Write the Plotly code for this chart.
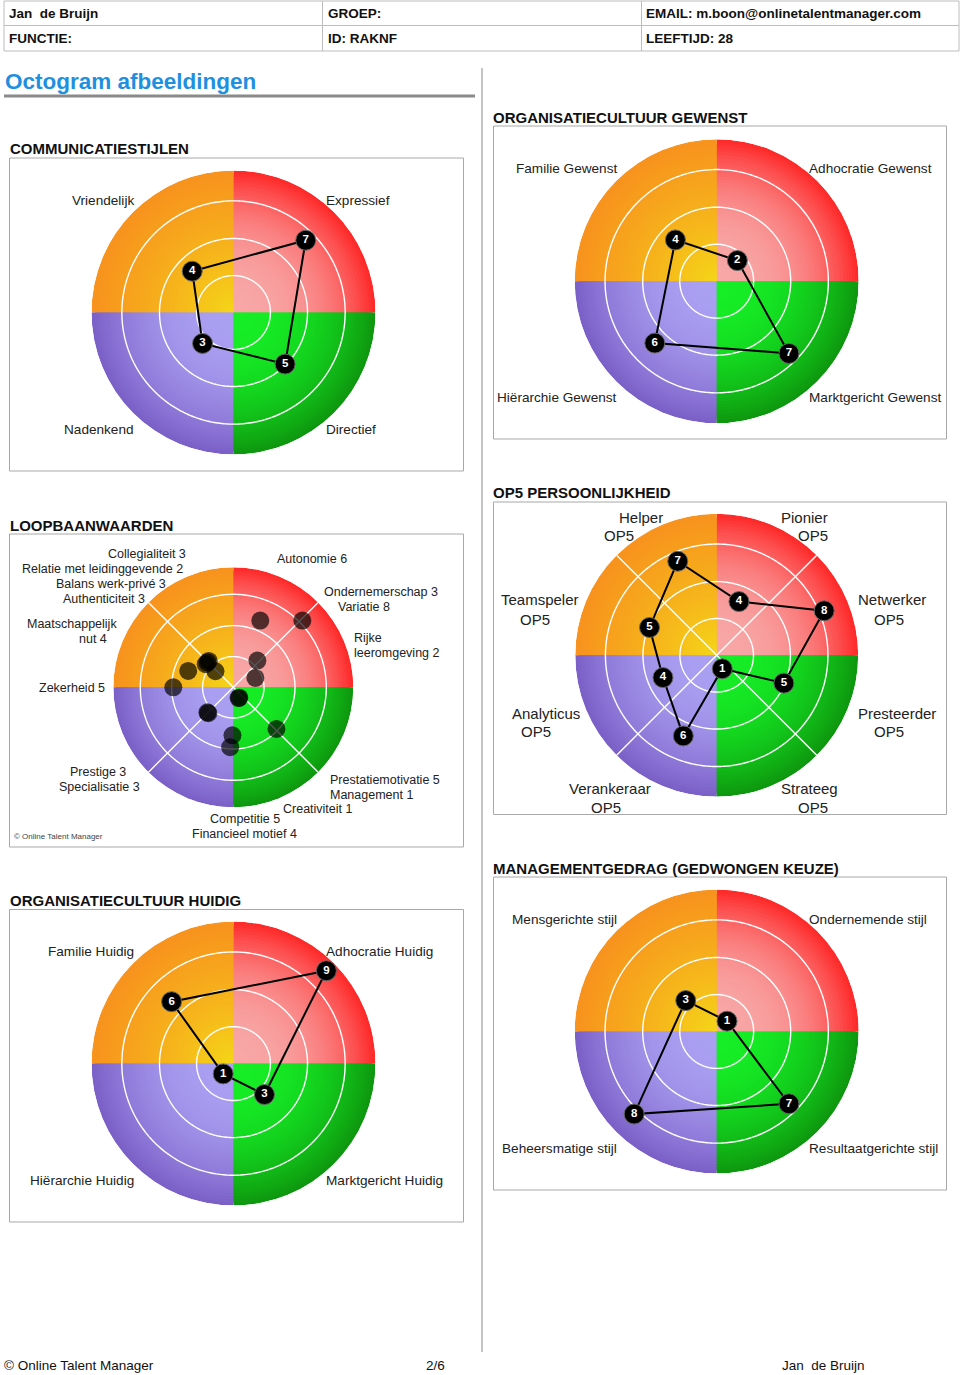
import numpy as np
import plotly.graph_objects as go

W, H = 960, 1375
FONT = "Liberation Sans, Arial, sans-serif"

# ------------------------------------------------------------------ data
header_row1 = ["Jan\u00a0 de Bruijn", "GROEP:", "EMAIL: m.boon@onlinetalentmanager.com"]
header_row2 = ["FUNCTIE:", "ID: RAKNF", "LEEFTIJD: 28"]
page_title = "Octogram afbeeldingen"
footer_texts = ["© Online Talent Manager", "2/6", "Jan\u00a0 de Bruijn"]

quad_theta = [45, 135, 225, 315]          # NE, NW, SW, SE

comm_title = "COMMUNICATIESTIJLEN"
comm_labels = ["Expressief", "Vriendelijk", "Nadenkend", "Directief"]
comm_values = [7, 4, 3, 5]

gew_title = "ORGANISATIECULTUUR GEWENST"
gew_labels = ["Adhocratie Gewenst", "Familie Gewenst", "Hiërarchie Gewenst", "Marktgericht Gewenst"]
gew_values = [2, 4, 6, 7]

hui_title = "ORGANISATIECULTUUR HUIDIG"
hui_labels = ["Adhocratie Huidig", "Familie Huidig", "Hiërarchie Huidig", "Marktgericht Huidig"]
hui_values = [9, 6, 1, 3]

man_title = "MANAGEMENTGEDRAG (GEDWONGEN KEUZE)"
man_labels = ["Ondernemende stijl", "Mensgerichte stijl", "Beheersmatige stijl", "Resultaatgerichte stijl"]
man_values = [1, 3, 8, 7]

op5_title = "OP5 PERSOONLIJKHEID"
op5_labels = ["Netwerker", "Pionier", "Helper", "Teamspeler", "Analyticus", "Verankeraar", "Strateeg", "Presteerder"]
op5_theta = [22.5, 67.5, 112.5, 157.5, 202.5, 247.5, 292.5, 337.5]
op5_values = [8, 4, 7, 5, 4, 6, 1, 5]
op5_level = ["OP5"] * 8

loop_title = "LOOPBAANWAARDEN"
loop_labels = ["Collegialiteit", "Relatie met leidinggevende", "Balans werk-privé", "Authenticiteit",
               "Maatschappelijk\nnut", "Zekerheid", "Autonomie", "Ondernemerschap", "Variatie",
               "Rijke\nleeromgeving", "Prestatiemotivatie", "Management", "Creativiteit",
               "Competitie", "Financieel motief", "Prestige", "Specialisatie"]
loop_values = [3, 2, 3, 3, 4, 5, 6, 3, 8, 2, 5, 1, 1, 5, 4, 3, 3]
loop_theta = [133, 138, 136, 140, 160, 180, 68, 48, 44, 23, 316, 296, 300, 267, 269, 224, 226]

# ------------------------------------------------------------------ styling / layout
quad_inner = {45: (248, 166, 166), 135: (245, 216, 24), 225: (170, 160, 242), 315: (22, 238, 38)}
quad_outer = {45: (255, 38, 38), 135: (247, 146, 30), 225: (122, 94, 198), 315: (14, 150, 14)}
quad_gamma = {45: 2.6, 135: 0.85, 225: 2.2, 315: 2.2}

QUAD_RMAX, QUAD_RINGS = 9.73, [2.53, 5.07, 7.65]
LOOP_RMAX, LOOP_RINGS = 10.0, [2.56, 5.14, 7.75]

fig = go.Figure()
annotations, shapes = [], []


def X(px):
    return px / W


def Y(py):
    return 1 - py / H


def txt(x, y, s, size=14, anchor="left", color="#222222", bold=False):
    annotations.append(dict(x=X(x), y=Y(y), xref="paper", yref="paper", text=s, showarrow=False,
                            xanchor=anchor, yanchor="middle", borderpad=0, borderwidth=0,
                            font=dict(size=size, color=color, family=FONT,
                                      weight="bold" if bold else "normal")))


def rect(x0, y0, x1, y1, line="#a8a8a8", fill=None, lw=1):
    shapes.append(dict(type="rect", xref="paper", yref="paper", x0=X(x0), y0=Y(y1), x1=X(x1), y1=Y(y0),
                       line=dict(color=line, width=lw) if line else dict(width=0),
                       fillcolor=fill if fill else "rgba(0,0,0,0)", layer="below"))


def hline(x0, x1, y, color="#bdbdbd", lw=1):
    shapes.append(dict(type="line", xref="paper", yref="paper", x0=X(x0), x1=X(x1), y0=Y(y), y1=Y(y),
                       line=dict(color=color, width=lw)))


def vline(x, y0, y1, color="#bdbdbd", lw=1):
    shapes.append(dict(type="line", xref="paper", yref="paper", x0=X(x), x1=X(x), y0=Y(y0), y1=Y(y1),
                       line=dict(color=color, width=lw)))


def mix(c1, c2, t):
    return "rgb(%d,%d,%d)" % tuple(round(a + (b - a) * t) for a, b in zip(c1, c2))


polar_layouts = {}


def add_polar(idx, cx, cy, R, rmax, rings, diagonals):
    name = "polar" if idx == 1 else "polar%d" % idx
    polar_layouts[name] = dict(
        domain=dict(x=[X(cx - R), X(cx + R)], y=[Y(cy + R), Y(cy - R)]),
        bgcolor="rgba(0,0,0,0)", barmode="overlay", bargap=0,
        radialaxis=dict(range=[0, rmax], visible=False, showgrid=False),
        angularaxis=dict(visible=False, showgrid=False, rotation=0, direction="counterclockwise"))
    sub = name
    # radial gradient quadrants (outer bands first, inner bands painted on top)
    n = 46
    th, rr, cols = [], [], []
    for k in range(n, 0, -1):
        t = (k - 0.5) / n
        for q in quad_theta:
            th.append(q)
            rr.append(rmax * k / n)
            cols.append(mix(quad_inner[q], quad_outer[q], t ** quad_gamma[q]))
    fig.add_trace(go.Barpolar(theta=th, r=rr, width=[90] * len(th), subplot=sub, hoverinfo="skip",
                              marker=dict(color=cols, line=dict(width=0))))
    ang = np.linspace(0, 360, 361)
    for ring in rings:
        fig.add_trace(go.Scatterpolar(r=[ring] * len(ang), theta=ang, mode="lines", subplot=sub,
                                      line=dict(color="white", width=1.4), hoverinfo="skip"))
    if diagonals:
        for a in (45, 135):
            fig.add_trace(go.Scatterpolar(r=[rmax, 0, rmax], theta=[a, 0, a + 180], mode="lines",
                                          subplot=sub, line=dict(color="white", width=1.4),
                                          hoverinfo="skip"))
    return sub


def add_profile(sub, thetas, values):
    fig.add_trace(go.Scatterpolar(r=list(values) + [values[0]], theta=list(thetas) + [thetas[0]],
                                  mode="lines", subplot=sub, line=dict(color="black", width=2),
                                  hoverinfo="skip"))
    fig.add_trace(go.Scatterpolar(r=values, theta=thetas, mode="markers+text", subplot=sub,
                                  text=[str(v) for v in values], textposition="middle center",
                                  textfont=dict(color="white", size=11.5, family=FONT, weight="bold"),
                                  marker=dict(size=20, color="black", line=dict(color="#666", width=1)),
                                  hoverinfo="skip"))


# ------------------------------------------------------------------ header
rect(4, 1, 959, 51, line="#bdbdbd")
hline(4, 959, 25.5)
vline(322.5, 1, 51)
vline(641.5, 1, 51)
for i, s in enumerate(header_row1):
    txt([9, 328, 646][i], 13, s, size=13.5, bold=True, color="#111")
for i, s in enumerate(header_row2):
    txt([9, 328, 646][i], 38, s, size=13.5, bold=True, color="#111")

txt(4.5, 81, page_title, size=22.5, bold=True, color="#1f8fe0")
rect(4, 94.5, 475, 97.5, line=None, fill="#8a8a8a")
vline(482, 68, 1352, color="#c4c4c4", lw=2)

# ------------------------------------------------------------------ quadrant panels
quad_panels = [
    (1, comm_title, comm_labels, comm_values, 233.5, 312.5, (9.5, 158, 463.5, 471), (10, 148)),
    (2, gew_title, gew_labels, gew_values, 716.7, 281.2, (493.5, 126, 946.5, 439), (493, 117)),
    (5, hui_title, hui_labels, hui_values, 233.5, 1063.6, (9.5, 909.5, 463.5, 1222), (10, 900)),
    (6, man_title, man_labels, man_values, 716.7, 1031.5, (493.5, 877, 946.5, 1190), (493, 868)),
]
for idx, title, labels, values, cx, cy, box, tpos in quad_panels:
    rect(*box)
    txt(tpos[0], tpos[1], title, size=15, bold=True, color="#111")
    sub = add_polar(idx, cx, cy, 142, QUAD_RMAX, QUAD_RINGS, False)
    add_profile(sub, quad_theta, values)
    # labels: NE, NW, SW, SE
    txt(cx + 92, cy - 112.5, labels[0], size=13.6)
    txt(cx - 99.5, cy - 112.5, labels[1], size=13.6, anchor="right")
    txt(cx - 99.5, cy + 116.5, labels[2], size=13.6, anchor="right")
    txt(cx + 92, cy + 116.5, labels[3], size=13.6)

# ------------------------------------------------------------------ OP5 panel
rect(493.5, 502, 946.5, 814.5)
txt(493, 493, op5_title, size=15, bold=True, color="#111")
sub = add_polar(4, 716.7, 655.3, 141.5, QUAD_RMAX, QUAD_RINGS, True)
add_profile(sub, op5_theta, op5_values)
op5_pos = {  # (name x, name y, level x, level y) - label centres
    "Helper": (641, 517, 618.5, 535), "Pionier": (804.5, 517, 812.5, 535),
    "Teamspeler": (540, 600, 535, 619), "Netwerker": (892, 600, 889, 619),
    "Analyticus": (546, 713, 536, 731), "Presteerder": (897, 713, 889, 731),
    "Verankeraar": (609.5, 788, 606, 807), "Strateeg": (809.5, 788, 812.5, 807),
}
for lab, lev in zip(op5_labels, op5_level):
    p = op5_pos[lab]
    txt(p[0], p[1], lab, size=15, anchor="center")
    txt(p[2], p[3], lev, size=15, anchor="center")

# ------------------------------------------------------------------ Loopbaanwaarden panel
rect(9.5, 534, 463.5, 847)
txt(10, 525, loop_title, size=15, bold=True, color="#111")
sub = add_polar(3, 233.3, 687.3, 120, LOOP_RMAX, LOOP_RINGS, True)
fig.add_trace(go.Scatterpolar(r=loop_values, theta=loop_theta, mode="markers", subplot=sub,
                              marker=dict(size=18, color="rgba(0,0,0,0.68)", line=dict(width=0)),
                              hoverinfo="skip"))
loop_pos = [
    [(146.5, 554, "center")], [(102.3, 569, "center")], [(110.5, 584, "center")],
    [(103.7, 599, "center")], [(72.2, 624, "center"), (92.5, 639, "center")],
    [(71.7, 688, "center")], [(312, 559, "center")], [(381.3, 592, "center")],
    [(364.2, 607, "center")], [(354, 638, "left"), (354, 652.5, "left")],
    [(330, 780, "left")], [(330, 795, "left")], [(318, 809, "center")],
    [(245, 819, "center")], [(244.7, 834, "center")], [(98.2, 772, "center")],
    [(99.7, 787, "center")],
]
for lab, val, pos in zip(loop_labels, loop_values, loop_pos):
    lines = lab.split("\n")
    lines[-1] = lines[-1] + " " + str(val)
    for line, (x, y, anc) in zip(lines, pos):
        txt(x, y, line, size=12.5, anchor=anc)
txt(14, 836, "© Online Talent Manager", size=8, color="#444")

# ------------------------------------------------------------------ footer
txt(4, 1365, footer_texts[0], size=13.5, color="#111")
txt(435.5, 1365, footer_texts[1], size=13.5, color="#111", anchor="center")
txt(782, 1365, footer_texts[2], size=13.5, color="#111")

fig.update_layout(width=W, height=H, margin=dict(l=0, r=0, t=0, b=0, pad=0),
                  paper_bgcolor="white", plot_bgcolor="white", showlegend=False,
                  annotations=annotations, shapes=shapes, **polar_layouts)

fig.write_html("out.html", config={"displayModeBar": False},
               post_script="document.body.style.margin='0';")
